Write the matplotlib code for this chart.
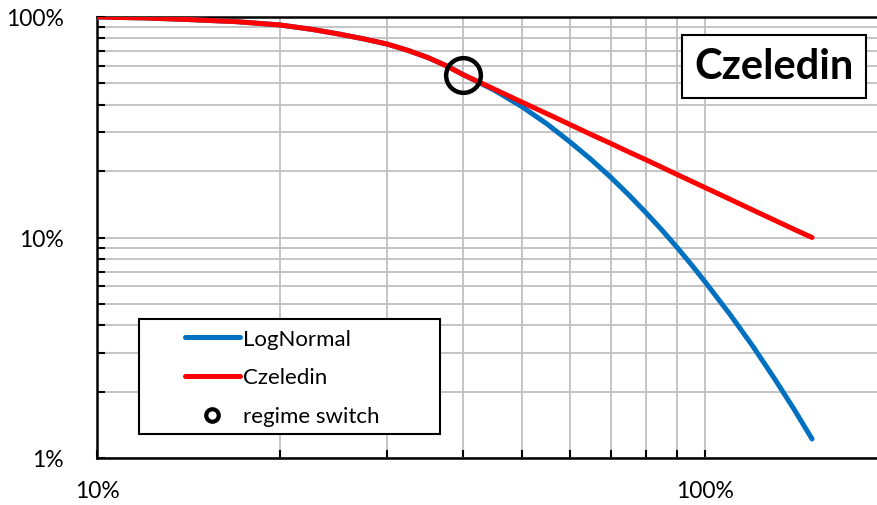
import matplotlib
matplotlib.use("Agg")
import matplotlib.pyplot as plt
from matplotlib.lines import Line2D
from matplotlib.patches import Rectangle
from matplotlib.ticker import FixedLocator, FuncFormatter, NullFormatter

# exceedance curves (x and y as fractions)
x_vals = [0.10, 0.12, 0.14, 0.17, 0.20, 0.225, 0.25, 0.275, 0.30, 0.325,
          0.35, 0.375, 0.40, 0.45, 0.50, 0.55, 0.60, 0.65, 0.70, 0.75,
          0.80, 0.85, 0.90, 0.95, 1.00, 1.10, 1.20, 1.30, 1.40, 1.50]
lognormal = [1.0, 0.99, 0.975, 0.952, 0.92, 0.88, 0.837, 0.795, 0.754, 0.705,
             0.655, 0.602, 0.548, 0.466, 0.392, 0.327, 0.271, 0.2255, 0.1874, 0.1556,
             0.1294, 0.1079, 0.0901, 0.0753, 0.0630, 0.0447, 0.0320, 0.0230, 0.0167, 0.0122]
czeledin = [1.0, 0.99, 0.975, 0.952, 0.92, 0.88, 0.837, 0.795, 0.754, 0.705,
            0.655, 0.602, 0.548, 0.471, 0.411, 0.364, 0.325, 0.293, 0.267, 0.244,
            0.225, 0.208, 0.193, 0.180, 0.1685, 0.149, 0.133, 0.120, 0.109, 0.100]
switch_x = [0.40]
switch_y = [0.548]

x_major = [0.1, 1.0]
x_minor = [0.2, 0.3, 0.4, 0.5, 0.6, 0.7, 0.8, 0.9]
y_major = [0.01, 0.1, 1.0]
y_minor = [0.02, 0.03, 0.04, 0.05, 0.06, 0.07, 0.08, 0.09,
           0.2, 0.3, 0.4, 0.5, 0.6, 0.7, 0.8, 0.9]

plt.rcParams['font.family'] = ['Lato', 'DejaVu Sans']

W, H = 878, 506
fig = plt.figure(figsize=(W / 100, H / 100), dpi=100)
ax = fig.add_axes([97 / W, 1 - 459 / H, (888 - 97) / W, (459 - 18) / H])

ax.set_xscale('log')
ax.set_yscale('log')
ax.set_xlim(0.1, 2.0)
ax.set_ylim(0.01, 1.0)

ax.xaxis.set_major_locator(FixedLocator(x_major))
ax.xaxis.set_minor_locator(FixedLocator(x_minor))
ax.yaxis.set_major_locator(FixedLocator(y_major))
ax.yaxis.set_minor_locator(FixedLocator(y_minor))
pct = FuncFormatter(lambda v, p: f"{v * 100:.0f}%")
ax.xaxis.set_major_formatter(pct)
ax.yaxis.set_major_formatter(pct)
ax.xaxis.set_minor_formatter(NullFormatter())
ax.yaxis.set_minor_formatter(NullFormatter())

ax.grid(True, which='both', color='#BFBFBF', linewidth=1.3)
ax.set_axisbelow(True)
ax.tick_params(which='both', direction='in', length=6, width=1.5,
               labelsize=16.5, color='black')
ax.tick_params(axis='x', which='major', pad=16)
ax.tick_params(axis='y', which='major', pad=24)
for s in ax.spines.values():
    s.set_linewidth(1.8)
    s.set_color('black')

ax.plot(x_vals, lognormal, color='#0070C0', linewidth=3.6,
        solid_capstyle='round', solid_joinstyle='round', zorder=3)
ax.plot(x_vals, czeledin, color='#FF0000', linewidth=3.6,
        solid_capstyle='round', solid_joinstyle='round', zorder=4)
ax.plot(switch_x, switch_y, 'o', markersize=25, markerfacecolor='none',
        markeredgecolor='black', markeredgewidth=3.2, zorder=5)

# legend
box = Rectangle((139 / W, 1 - 435 / H), (440 - 139) / W, (435 - 320) / H,
                transform=fig.transFigure, facecolor='white',
                edgecolor='black', linewidth=1.5, zorder=6, clip_on=False)
ax.add_patch(box)
handles = [
    Line2D([], [], color='#0070C0', linewidth=3.6, solid_capstyle='round'),
    Line2D([], [], color='#FF0000', linewidth=3.6, solid_capstyle='round'),
    Line2D([], [], marker='o', linestyle='none', markersize=9,
           markerfacecolor='none', markeredgecolor='black', markeredgewidth=3),
]
labels = ['LogNormal', 'Czeledin', 'regime switch']
leg = ax.legend(handles, labels, loc='upper left', frameon=False,
                bbox_to_anchor=(169 / W, 1 - 314 / H),
                bbox_transform=fig.transFigure, fontsize=16,
                handlelength=2.5, handletextpad=0.15, labelspacing=0.85,
                borderpad=0.2)
leg.set_zorder(7)

# title box
ax.text(774 / W, 1 - 67 / H, 'Czeledin', transform=fig.transFigure,
        ha='center', va='center', fontsize=30, fontweight='bold', zorder=8,
        bbox=dict(boxstyle='square,pad=0.3', facecolor='white',
                  edgecolor='black', linewidth=1.5))

fig.savefig('out.png', dpi=100)
